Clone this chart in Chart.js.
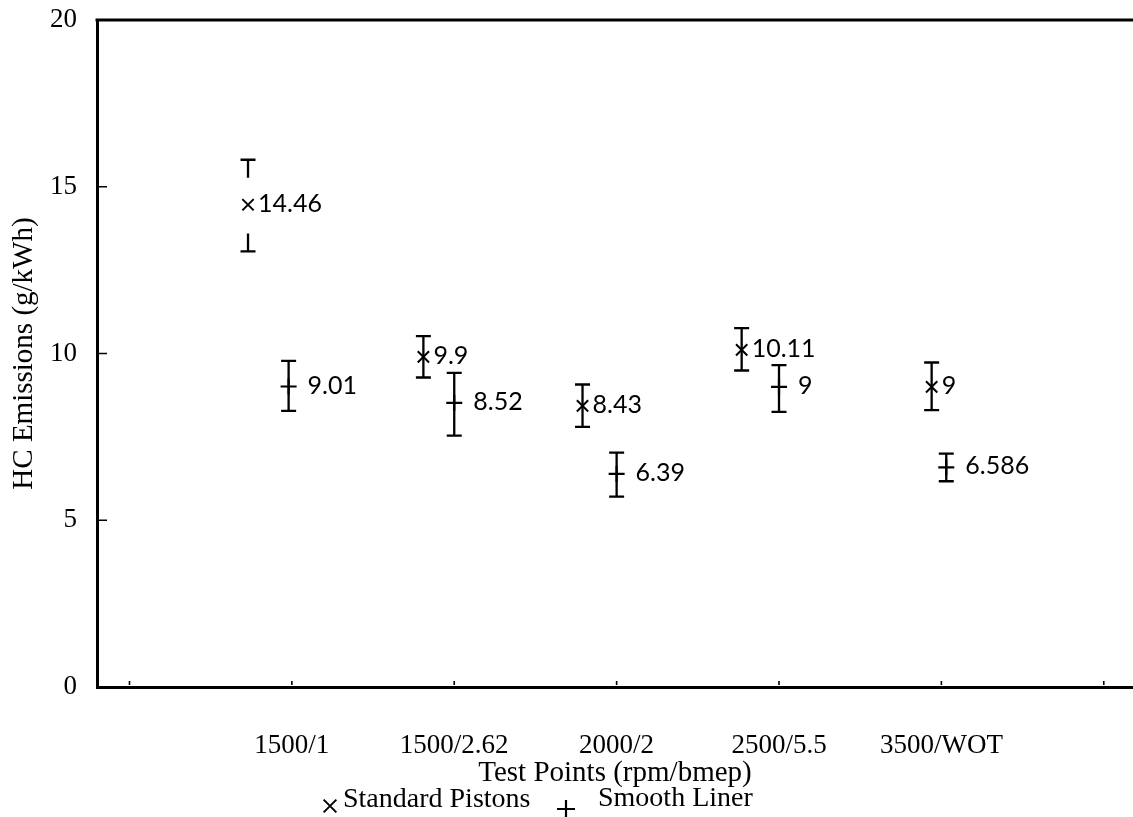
<!DOCTYPE html>
<html>
<head>
<meta charset="utf-8">
<script src="https://cdn.jsdelivr.net/npm/chart.js@4.4.1/dist/chart.umd.min.js"></script>
<style>
  html, body { margin: 0; padding: 0; background: #fff; }
</style>
</head>
<body>
<canvas id="chart" width="1133" height="817"></canvas>
<script>
// test points sit on x ticks 1..5, ticks 0 and 6 are unlabelled
const testPoints = ['1500/1', '1500/2.62', '2000/2', '2500/5.5', '3500/WOT'];
const seriesNames = ['Standard Pistons', 'Smooth Liner'];

// standard pistons are plotted a bit to the left of each tick
const stdX = [0.73, 1.81, 2.79, 3.77, 4.94];
const stdMean = [14.46, 9.9, 8.43, 10.11, 9];
const stdHigh = [15.81, 10.52, 9.07, 10.76, 9.73];
const stdLow = [13.06, 9.28, 7.80, 9.49, 8.30];
const stdLabels = ['14.46', '9.9', '8.43', '10.11', '9'];

const linerX = [0.98, 2, 3, 4, 5.03];
const linerMean = [9.01, 8.52, 6.39, 9, 6.586];
const linerHigh = [9.78, 9.42, 7.03, 9.65, 7.0];
const linerLow = [8.28, 7.54, 5.71, 8.25, 6.17];
const linerLabels = ['9.01', '8.52', '6.39', '9', '6.586'];

const SERIF = '"Liberation Serif", "Times New Roman", serif';
const SANS = 'Lato, "Liberation Sans", sans-serif';

const toPoints = (xs, ys) => xs.map((x, i) => ({x: x, y: ys[i]}));

// whiskers + caps, drawn through the scales
const errorBars = {
  id: 'errorBars',
  afterDatasetsDraw(chart) {
    const {ctx, scales: {x, y}} = chart;
    ctx.save();
    ctx.strokeStyle = '#000';
    ctx.lineWidth = 2.3;
    chart.data.datasets.forEach(ds => {
      ds.data.forEach((p, i) => {
        const px = x.getPixelForValue(p.x);
        const top = y.getPixelForValue(ds.high[i]);
        const bot = y.getPixelForValue(ds.low[i]);
        const stem = ds.stems ? ds.stems[i] : null;
        ctx.beginPath();
        if (stem) {
          ctx.moveTo(px, top); ctx.lineTo(px, top + stem);
          ctx.moveTo(px, bot - stem); ctx.lineTo(px, bot);
        } else {
          ctx.moveTo(px, top); ctx.lineTo(px, bot);
        }
        ctx.moveTo(px - 7.5, top); ctx.lineTo(px + 7.5, top);
        ctx.moveTo(px - 7.5, bot); ctx.lineTo(px + 7.5, bot);
        ctx.stroke();
      });
    });
    ctx.restore();
  }
};

// value text next to each point
const pointLabels = {
  id: 'pointLabels',
  afterDatasetsDraw(chart) {
    const {ctx, scales: {x, y}} = chart;
    ctx.save();
    ctx.fillStyle = '#000';
    ctx.font = '25px ' + SANS;
    ctx.textAlign = 'left';
    ctx.textBaseline = 'middle';
    chart.data.datasets.forEach(ds => {
      ds.data.forEach((p, i) => {
        ctx.fillText(ds.valueText[i], x.getPixelForValue(p.x) + ds.labelGap,
          y.getPixelForValue(p.y) - 1);
      });
    });
    ctx.restore();
  }
};

// frame top line and the short inward tick marks
const frame = {
  id: 'frame',
  afterDraw(chart) {
    const {ctx, chartArea: a, scales: {x, y}} = chart;
    ctx.save();
    ctx.strokeStyle = '#000';
    ctx.lineWidth = 3;
    ctx.beginPath();
    ctx.moveTo(a.left - 1.5, a.top);
    ctx.lineTo(a.right, a.top);
    ctx.stroke();
    ctx.lineWidth = 1.6;
    ctx.beginPath();
    y.ticks.forEach(t => {
      if (t.value <= y.min || t.value >= y.max) return;
      const py = y.getPixelForValue(t.value);
      ctx.moveTo(a.left, py); ctx.lineTo(a.left + 10, py);
    });
    x.ticks.forEach(t => {
      const px = x.getPixelForValue(t.value);
      ctx.moveTo(px, a.bottom - 2); ctx.lineTo(px, a.bottom - 6);
    });
    ctx.stroke();
    ctx.restore();
  }
};

// legend under the axis title
const bottomLegend = {
  id: 'bottomLegend',
  afterDraw(chart) {
    const {ctx} = chart;
    const spots = [{sx: 330, sy: 806, tx: 343, ty: 800}, {sx: 566, sy: 809, tx: 598, ty: 799}];
    ctx.save();
    chart.data.datasets.forEach((ds, i) => {
      const s = spots[i];
      ctx.strokeStyle = '#000';
      ctx.lineWidth = ds.borderWidth;
      Chart.helpers.drawPoint(ctx, {pointStyle: ds.pointStyle, radius: ds.pointRadius + 1, borderWidth: ds.borderWidth}, s.sx, s.sy);
      ctx.fillStyle = '#000';
      ctx.font = '28px ' + SERIF;
      ctx.textAlign = 'left';
      ctx.textBaseline = 'middle';
      ctx.fillText(ds.label, s.tx, s.ty);
    });
    ctx.restore();
  }
};

new Chart(document.getElementById('chart'), {
  type: 'scatter',
  data: {
    datasets: [
      {
        label: seriesNames[0],
        data: toPoints(stdX, stdMean),
        high: stdHigh, low: stdLow, valueText: stdLabels, labelGap: 10,
        stems: [18, null, null, null, null],
        pointStyle: 'crossRot', pointRadius: 8, borderWidth: 2,
        borderColor: '#000', backgroundColor: '#000'
      },
      {
        label: seriesNames[1],
        data: toPoints(linerX, linerMean),
        high: linerHigh, low: linerLow, valueText: linerLabels, labelGap: 19,
        pointStyle: 'cross', pointRadius: 8, borderWidth: 2.2,
        borderColor: '#000', backgroundColor: '#000'
      }
    ]
  },
  options: {
    responsive: false,
    devicePixelRatio: 1,
    animation: false,
    clip: false,
    // no auto padding for point radius, the frame runs to the right edge
    layout: {autoPadding: false, padding: {top: 20, right: 0, bottom: 26, left: 0}},
    plugins: {legend: {display: false}, tooltip: {enabled: false}},
    scales: {
      x: {
        type: 'linear',
        min: -0.2,
        max: 6.18,
        // tick marks hidden, their length only pushes the labels down
        grid: {display: false, drawTicks: true, tickLength: 40},
        border: {display: true, color: '#000', width: 3},
        afterBuildTicks: s => {
          s.ticks = [];
          for (let v = Math.ceil(s.min); v <= Math.floor(s.max); v++) s.ticks.push({value: v});
        },
        afterFit: s => { s.height = 104; s.paddingLeft = 0; s.paddingRight = 0; },
        ticks: {
          stepSize: 1,
          padding: 3,
          maxRotation: 0,
          autoSkip: false,
          color: '#000',
          font: {family: SERIF, size: 27},
          callback: v => testPoints[v - 1] || ''
        },
        title: {display: true, text: 'Test Points (rpm/bmep)', color: '#000',
          font: {family: SERIF, size: 29}, padding: {top: 0, bottom: 0}}
      },
      y: {
        min: 0,
        max: 20,
        grid: {display: false, drawTicks: false},
        border: {display: true, color: '#000', width: 3},
        afterFit: s => { s.width = 97; s.paddingTop = 0; s.paddingBottom = 0; },
        ticks: {stepSize: 5, padding: 20, color: '#000', font: {family: SERIF, size: 27}},
        title: {display: true, text: 'HC Emissions (g/kWh)', color: '#000',
          font: {family: SERIF, size: 29}, padding: {top: 7, bottom: 0}}
      }
    }
  },
  plugins: [errorBars, pointLabels, frame, bottomLegend]
});
</script>
</body>
</html>
